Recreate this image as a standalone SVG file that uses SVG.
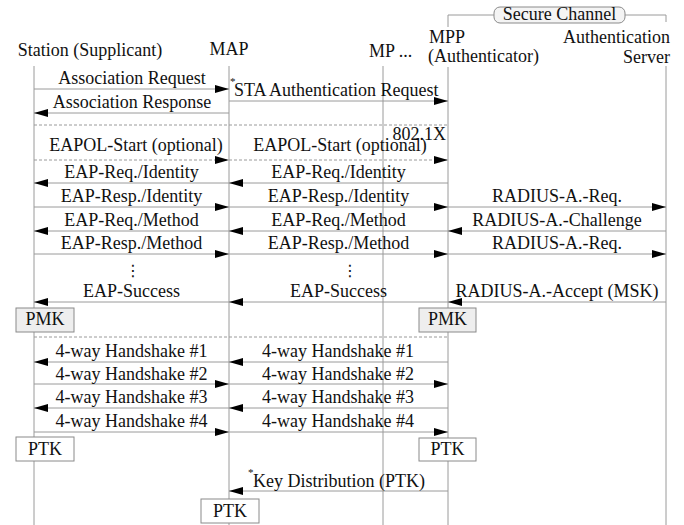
<svg xmlns="http://www.w3.org/2000/svg" width="684" height="525" viewBox="0 0 684 525">
  <style>
    text { font-family: "Liberation Serif", "Times New Roman", serif; font-size: 18px; fill: #111; }
    .c { text-anchor: middle; }
    .e { text-anchor: end; }
    .sup { font-size: 11px; }
    .dots { font-family: "DejaVu Sans", sans-serif; font-size: 16px; text-anchor: middle; }
    .life { stroke: #9a9a9a; stroke-width: 1; fill: none; }
    .msg { stroke: #9a9a9a; stroke-width: 1; fill: none; marker-end: url(#head); }
    .dash { stroke: #9a9a9a; stroke-width: 1; fill: none; stroke-dasharray: 3 2; }
    .box { fill: #ffffff; stroke: #8a8a8a; stroke-width: 1; }
    .key { fill: #eeeeee; stroke: #8a8a8a; stroke-width: 1; }
    .chan { fill: #f4f4f4; stroke: #8a8a8a; stroke-width: 1; }
  </style>
  <defs>
    <marker id="head" viewBox="0 0 14 8" refX="14" refY="4" markerWidth="14" markerHeight="8" markerUnits="userSpaceOnUse" orient="auto">
      <path d="M0,0 L14,4 L0,8 z" fill="#000"/>
    </marker>
  </defs>
  <rect width="684" height="525" fill="#fff"/>

  <!-- secure channel bracket over MPP and authentication server -->
  <g id="secure-channel">
    <path class="life" d="M448,15 H494 M625,15 H666"/>
    <rect class="chan" x="494" y="7" width="131" height="16" rx="6"/>
    <text class="c" x="559.5" y="20">Secure Channel</text>
  </g>

  <!-- participants -->
  <g id="station">
    <text class="c" x="90" y="56">Station (Supplicant)</text>
    <line class="life" x1="34" y1="66" x2="34" y2="525"/>
  </g>
  <g id="map">
    <text class="c" x="229" y="55">MAP</text>
    <line class="life" x1="229" y1="66" x2="229" y2="525"/>
  </g>
  <g id="mp">
    <text x="369" y="57">MP ...</text>
    <line class="life" x1="383" y1="66" x2="383" y2="525"/>
  </g>
  <g id="mpp">
    <path class="life" d="M448,15 V27 M448,67 V525"/>
    <text x="429" y="43">MPP</text>
    <text x="428" y="62">(Authenticator)</text>
  </g>
  <g id="auth-server">
    <path class="life" d="M666,15 V22 M666,66 V525"/>
    <text class="e" x="670" y="43">Authentication</text>
    <text class="e" x="670" y="63">Server</text>
  </g>

  <!-- messages -->
  <g id="connectors">
    <line class="msg" x1="34" y1="89" x2="229" y2="89"/>
    <line class="msg" x1="229" y1="113" x2="34" y2="113"/>
    <line class="msg" x1="229" y1="101" x2="448" y2="101"/>
    <line class="dash" x1="34" y1="125" x2="448" y2="125"/>
    <line class="dash" x1="34" y1="160" x2="229" y2="160" marker-end="url(#head)"/>
    <line class="dash" x1="229" y1="160" x2="448" y2="160" marker-end="url(#head)"/>
    <!-- EAP identity -->
    <line class="msg" x1="448" y1="183" x2="229" y2="183"/>
    <line class="msg" x1="229" y1="183" x2="34" y2="183"/>
    <line class="msg" x1="34" y1="207" x2="229" y2="207"/>
    <line class="msg" x1="229" y1="207" x2="448" y2="207"/>
    <line class="msg" x1="448" y1="207" x2="666" y2="207"/>
    <!-- EAP method -->
    <line class="msg" x1="666" y1="231" x2="448" y2="231"/>
    <line class="msg" x1="448" y1="231" x2="229" y2="231"/>
    <line class="msg" x1="229" y1="231" x2="34" y2="231"/>
    <line class="msg" x1="34" y1="254" x2="229" y2="254"/>
    <line class="msg" x1="229" y1="254" x2="448" y2="254"/>
    <line class="msg" x1="448" y1="254" x2="666" y2="254"/>
    <!-- success -->
    <line class="msg" x1="666" y1="302" x2="448" y2="302"/>
    <line class="msg" x1="448" y1="302" x2="229" y2="302"/>
    <line class="msg" x1="229" y1="302" x2="34" y2="302"/>
    <line class="dash" x1="34" y1="337" x2="448" y2="337"/>
    <!-- 4-way handshake -->
    <line class="msg" x1="448" y1="362" x2="229" y2="362"/>
    <line class="msg" x1="229" y1="362" x2="34" y2="362"/>
    <line class="msg" x1="34" y1="384" x2="229" y2="384"/>
    <line class="msg" x1="229" y1="384" x2="448" y2="384"/>
    <line class="msg" x1="448" y1="408" x2="229" y2="408"/>
    <line class="msg" x1="229" y1="408" x2="34" y2="408"/>
    <line class="msg" x1="34" y1="432" x2="229" y2="432"/>
    <line class="msg" x1="229" y1="432" x2="448" y2="432"/>
    <!-- key distribution -->
    <line class="msg" x1="448" y1="491" x2="229" y2="491"/>
  </g>

  <!-- message labels -->
  <g id="labels">
    <text class="c" x="132" y="84">Association Request</text>
    <text class="c" x="132" y="108">Association Response</text>
    <text class="sup" x="230" y="85">*</text>
    <text x="234" y="96">STA Authentication Request</text>
    <text class="e" x="446" y="140">802.1X</text>
    <text class="c" x="136" y="151">EAPOL-Start (optional)</text>
    <text class="c" x="340" y="151">EAPOL-Start (optional)</text>
    <text class="c" x="131.5" y="178">EAP-Req./Identity</text>
    <text class="c" x="338.5" y="178">EAP-Req./Identity</text>
    <text class="c" x="131.5" y="202">EAP-Resp./Identity</text>
    <text class="c" x="338.5" y="202">EAP-Resp./Identity</text>
    <text class="c" x="557" y="202">RADIUS-A.-Req.</text>
    <text class="c" x="131.5" y="226">EAP-Req./Method</text>
    <text class="c" x="338.5" y="226">EAP-Req./Method</text>
    <text class="c" x="557" y="226">RADIUS-A.-Challenge</text>
    <text class="c" x="131.5" y="249">EAP-Resp./Method</text>
    <text class="c" x="338.5" y="249">EAP-Resp./Method</text>
    <text class="c" x="557" y="249">RADIUS-A.-Req.</text>
    <text class="dots" x="133" y="276">⋮</text>
    <text class="dots" x="350" y="276">⋮</text>
    <text class="c" x="131.5" y="297">EAP-Success</text>
    <text class="c" x="338.5" y="297">EAP-Success</text>
    <text class="c" x="557" y="297">RADIUS-A.-Accept (MSK)</text>
    <text class="c" x="131.5" y="357">4-way Handshake #1</text>
    <text class="c" x="338" y="357">4-way Handshake #1</text>
    <text class="c" x="131.5" y="380">4-way Handshake #2</text>
    <text class="c" x="338" y="380">4-way Handshake #2</text>
    <text class="c" x="131.5" y="403">4-way Handshake #3</text>
    <text class="c" x="338" y="403">4-way Handshake #3</text>
    <text class="c" x="131.5" y="427">4-way Handshake #4</text>
    <text class="c" x="338" y="427">4-way Handshake #4</text>
    <text class="sup" x="248" y="476">*</text>
    <text x="253" y="487">Key Distribution (PTK)</text>
  </g>

  <!-- key boxes -->
  <g id="pmk-station">
    <rect class="key" x="16" y="308" width="58" height="24"/>
    <text class="c" x="45" y="325">PMK</text>
  </g>
  <g id="pmk-mpp">
    <rect class="key" x="419" y="308" width="57" height="24"/>
    <text class="c" x="447.5" y="325">PMK</text>
  </g>
  <g id="ptk-station">
    <rect class="box" x="16" y="437" width="58" height="24"/>
    <text class="c" x="45" y="455">PTK</text>
  </g>
  <g id="ptk-mpp">
    <rect class="box" x="419" y="438" width="57" height="23"/>
    <text class="c" x="447.5" y="455">PTK</text>
  </g>
  <g id="ptk-map">
    <rect class="box" x="201" y="499" width="58" height="24"/>
    <text class="c" x="230" y="517">PTK</text>
  </g>
</svg>
